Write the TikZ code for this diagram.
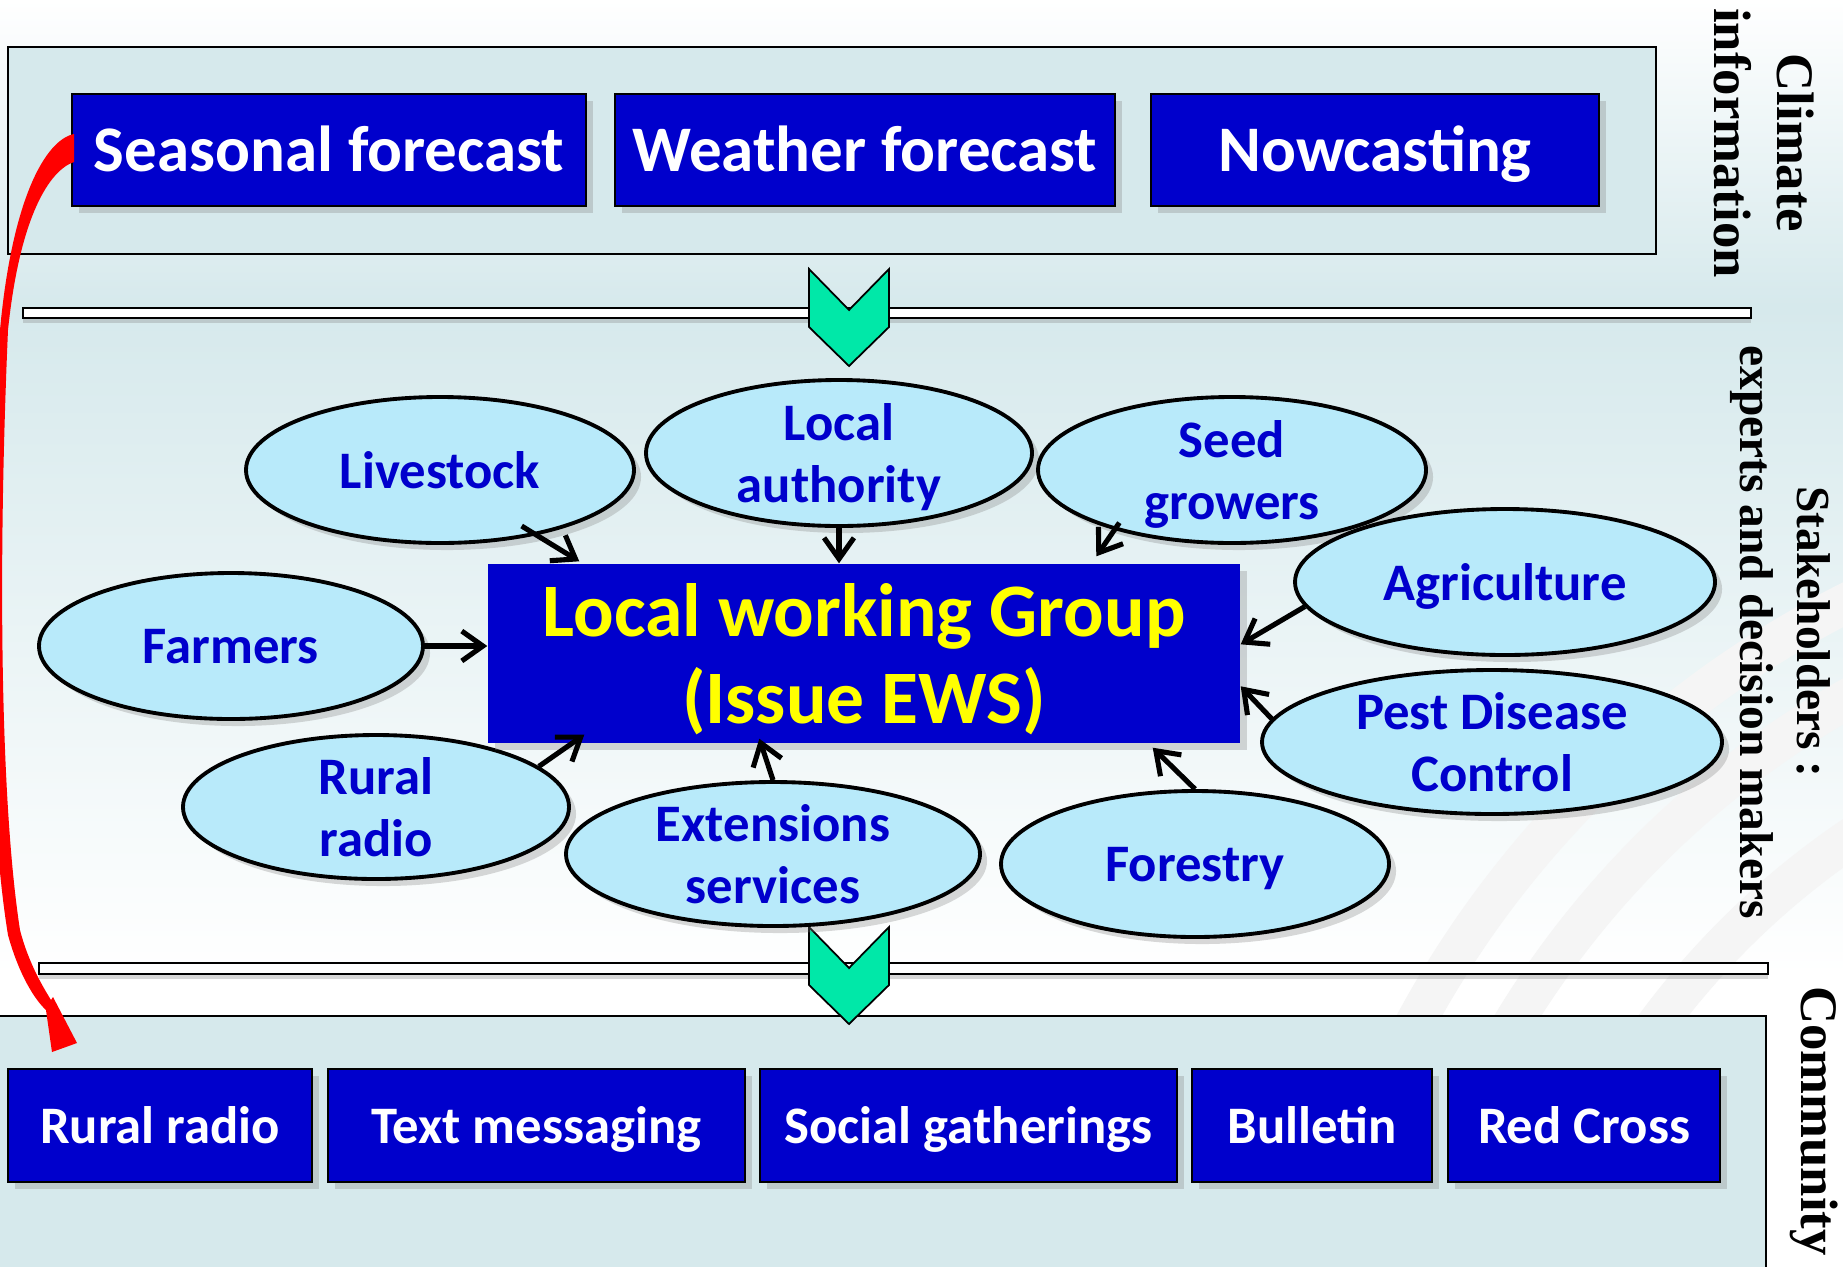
\documentclass[tikz,border=0pt]{standalone}
\usepackage{fontspec}
\setmainfont{Carlito}
\newfontfamily\sideserif{Liberation Serif}
\usetikzlibrary{shapes.geometric,arrows.meta,shadows}

\definecolor{paneblue}{HTML}{D6E9EC}
\definecolor{boxblue}{HTML}{0000CC}
\definecolor{actorfill}{HTML}{B8EAFA}
\definecolor{mint}{HTML}{00E8A8}
\definecolor{ewsyellow}{HTML}{FFFF00}

\tikzset{
  softshadow/.style={drop shadow={shadow xshift=2pt, shadow yshift=-2pt, opacity=0.3}},
  infobox/.style={draw=black, line width=0.6pt, fill=boxblue, text=white, inner sep=0pt,
    minimum height=1.12cm, text height=16.5pt, text depth=4pt,
    font=\bfseries\fontsize{18.5}{22}\selectfont, softshadow},
  channel/.style={infobox, minimum height=1.13cm, text height=13.5pt, text depth=3pt,
    font=\bfseries\fontsize{15}{18}\selectfont},
  actor/.style={ellipse, draw=black, line width=1.1pt, fill=actorfill, text=boxblue,
    align=center, inner xsep=0pt, inner ysep=-4pt, minimum height=1.46cm, text depth=0pt,
    font=\bfseries\fontsize{15}{17.6}\selectfont, softshadow},
  feed/.style={-{Straight Barb[length=6pt,width=8.5pt]}, line width=1.45pt},
  pane/.style={draw=black, line width=0.6pt, fill=paneblue},
  band/.style={draw=black, line width=0.6pt, fill=white, drop shadow={shadow xshift=0pt, shadow yshift=-1.5pt, opacity=0.3}},
  chevron/.style={draw=black, line width=0.5pt, fill=mint},
  sidelabel/.style={rotate=-90, align=center, font=\sideserif\bfseries\fontsize{15}{18}\selectfont}
}

\begin{document}
\begin{tikzpicture}
   \clip (0,0) rectangle (18.43,12.66);

   % backdrop
   \shade[top color=white, bottom color=paneblue] (0,12.66) rectangle (18.43,9.6);
   \shade[top color=paneblue, bottom color=white] (0,9.6) rectangle (18.43,2.9);
   \fill[white] (0,2.9) rectangle (18.43,0);
   \foreach \r in {10.05,9.2,8.0}
      \draw[black!4, line width=0.4cm] (23.0,-2.34) circle (\r);

   % the two panes
   \draw[pane] (0.08,12.19) rectangle (16.56,10.12);
   \draw[pane] (-0.05,2.50) rectangle (17.66,-0.3);

   \draw[band] (0.23,9.58) rectangle (17.51,9.48);
   \draw[band] (0.39,3.03) rectangle (17.68,2.92);

   \draw[chevron] (8.09,9.97) -- (8.49,9.56) -- (8.89,9.97) -- (8.89,9.39) -- (8.49,9.00) -- (8.09,9.39) -- cycle;
   \draw[chevron] (8.09,3.39) -- (8.49,2.98) -- (8.89,3.39) -- (8.89,2.81) -- (8.49,2.42) -- (8.09,2.81) -- cycle;

   % climate information
   \node[infobox, minimum width=5.14cm] (seasonal) at (3.29,11.16) {Seasonal forecast};
   \node[infobox, minimum width=5.00cm] (weather) at (8.65,11.16) {Weather forecast};
   \node[infobox, minimum width=4.48cm] (nowcast) at (13.75,11.16) {Nowcasting};

   % stakeholders round the working group
   \node[actor, minimum width=3.88cm] (livestock) at (4.40,7.96) {Livestock};
   \node[actor, minimum width=3.86cm] (locauth) at (8.39,8.13) {Local\\authority};
   \node[actor, minimum width=3.88cm] (seed) at (12.32,7.96) {Seed\\growers};
   \node[actor, minimum width=4.20cm] (agri) at (15.05,6.84) {Agriculture};
   \node[actor, minimum width=3.84cm] (farmers) at (2.31,6.20) {Farmers};
   \node[actor, minimum width=4.60cm, minimum height=1.44cm] (pest) at (14.92,5.24) {Pest Disease\\Control};
   \node[actor, minimum width=3.86cm, minimum height=1.44cm] (ruralradio) at (3.76,4.59) {Rural\\radio};
   \node[actor, minimum width=4.14cm, minimum height=1.44cm] (ext) at (7.73,4.12) {Extensions\\services};
   \node[actor, minimum width=3.88cm] (forestry) at (11.95,4.02) {Forestry};

   \node[fill=boxblue, text=ewsyellow, align=center, inner sep=0pt, minimum width=7.52cm, minimum height=1.79cm,
      text depth=0pt, font=\bfseries\fontsize{21.5}{25}\selectfont, softshadow] (lwg) at (8.64,6.125) {Local working Group\\(Issue EWS)};

   \draw[feed, shorten <=-5pt] (livestock.-34) -- ([xshift=0.92cm,yshift=0.02cm]lwg.north west);
   \draw[feed] (locauth.south) -- (locauth.south |- lwg.north);
   \draw[feed, shorten <=-2.5pt] (seed.207) -- ([xshift=6.09cm,yshift=0.07cm]lwg.north west);
   \draw[feed] (agri.187) -- ([yshift=-0.81cm]lwg.north east);
   \draw[feed] (pest.174) -- ([yshift=-1.23cm]lwg.north east);
   \draw[feed] (forestry.north) -- ([xshift=-0.88cm,yshift=-0.04cm]lwg.south east);
   \draw[feed] (ext.north) -- ([xshift=2.72cm,yshift=0.05cm]lwg.south west);
   \draw[feed] (ruralradio.14) -- ([xshift=0.97cm,yshift=0.09cm]lwg.south west);
   \draw[feed] (farmers.east) -- (farmers.east -| lwg.west);

   % community channels
   \node[channel, minimum width=3.045cm] (radio) at (1.60,1.405) {Rural radio};
   \node[channel, minimum width=4.17cm] (texting) at (5.365,1.405) {Text messaging};
   \node[channel, minimum width=4.17cm] (social) at (9.685,1.405) {Social gatherings};
   \node[channel, minimum width=2.40cm] (bulletin) at (13.12,1.405) {Bulletin};
   \node[channel, minimum width=2.72cm] (redcross) at (15.84,1.405) {Red Cross};

   %seasonal forecast goes straight down to the community
   \fill[red] (0.74,11.32) .. controls (0.45,11.26) and (0.12,10.66) .. (0.0,9.36)
      .. controls (-0.14,7.06) and (-0.14,4.66) .. (0.08,3.31)
      .. controls (0.19,2.91) and (0.35,2.66) .. (0.46,2.56)
      -- (0.52,2.14) -- (0.77,2.23) -- (0.53,2.69) -- (0.51,2.66)
      .. controls (0.45,2.76) and (0.29,3.01) .. (0.20,3.36)
      .. controls (0.0,4.66) and (-0.02,7.06) .. (0.08,9.36)
      .. controls (0.20,10.51) and (0.50,10.96) .. (0.74,11.04) -- cycle;

   \node[sidelabel] (climate) at (17.64,11.23) {Climate\\information};
   \node[sidelabel, font=\sideserif\bfseries\fontsize{13.5}{16.2}\selectfont] (stake) at (17.80,6.34) {Stakeholders :\\experts and decision makers};
   \node[sidelabel] (community) at (18.14,1.45) {Community};
\end{tikzpicture}
\end{document}
